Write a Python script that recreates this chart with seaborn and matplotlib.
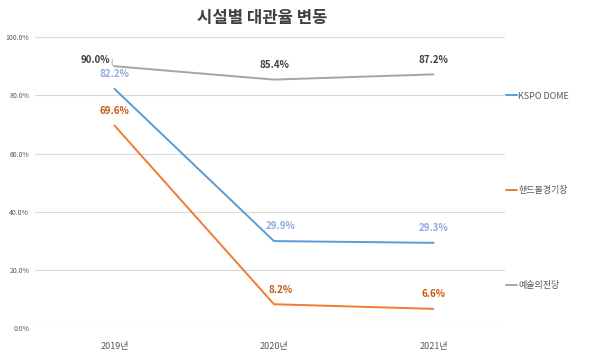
import pandas as pd
import seaborn as sns
import matplotlib.pyplot as plt
from matplotlib.ticker import PercentFormatter

# data
years = ['2019년', '2020년', '2021년']
kspo = [82.2, 29.9, 29.3]
handball = [69.6, 8.2, 6.6]
arts = [90.0, 85.4, 87.2]
names = ['KSPO DOME', '핸드볼경기장', '예술의전당']

colors = ['#5b9bd5', '#ed7d31', '#a5a5a5']
label_colors = ['#8faadc', '#c55a11', '#404040']

df = pd.DataFrame({
    'year': years * 3,
    'value': [v / 100 for v in kspo + handball + arts],
    'facility': [names[0]] * 3 + [names[1]] * 3 + [names[2]] * 3,
})

sns.set_style('white')
plt.rcParams['font.family'] = ['Noto Sans CJK KR', 'DejaVu Sans']

fig = plt.figure(figsize=(6, 3.57), dpi=100)
ax = fig.add_axes([0.058, 0.081, 0.784, 0.815])

sns.lineplot(data=df, x='year', y='value', hue='facility', palette=colors,
             linewidth=1.4, ax=ax, sort=False)

ax.set_ylim(0, 1)
ax.set_xlim(-0.5, 2.45)
ax.yaxis.set_major_formatter(PercentFormatter(1.0, decimals=1))
ax.set_yticks([0, 0.2, 0.4, 0.6, 0.8, 1.0])
ax.grid(axis='y', color='#d9d9d9', linewidth=0.8)
ax.set_axisbelow(True)
for s in ax.spines.values():
    s.set_visible(False)
ax.tick_params(axis='y', labelsize=5, colors='#595959', length=0, pad=4)
ax.tick_params(axis='x', labelsize=6.5, colors='#595959', length=0, pad=10)
ax.set_xlabel('')
ax.set_ylabel('')

# data labels (offsets in points)
series = [kspo, handball, arts]
offsets = [
    [(0, 7), (5, 7), (0, 7)],
    [(0, 7), (5, 7), (0, 7)],
    [(-14, 1), (0, 7), (0, 7)],
]
for vals, offs, c in zip(series, offsets, label_colors):
    for i, v in enumerate(vals):
        ax.annotate(f'{v:.1f}%', (i, v / 100), xytext=offs[i], textcoords='offset points',
                    ha='center', va='bottom', fontsize=7, fontweight='bold', color=c)

# leader line for 90.0%
ax.plot([-0.015, -0.015, 0], [0.925, 0.905, 0.9], color='#a5a5a5', linewidth=0.6)

ax.legend(loc='upper left', bbox_to_anchor=(0.995, 0.825), frameon=False,
          fontsize=6.5, handlelength=1.2, handletextpad=0.1, labelspacing=9.5,
          labelcolor='#595959', borderaxespad=0)

fig.text(0.437, 0.95, '시설별 대관율 변동', ha='center', va='center',
         fontsize=12, fontweight='bold', color='#404040')

fig.savefig('out.png', dpi=100)
